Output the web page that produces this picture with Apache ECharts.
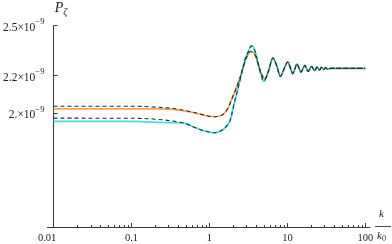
<!DOCTYPE html>
<html><head><meta charset="utf-8">
<script src="https://cdn.jsdelivr.net/npm/echarts@6/dist/echarts.min.js"></script>
<style>html,body{margin:0;padding:0;background:#fff}#c{width:392px;height:244px}</style>
</head><body><div id="c"></div>
<script>
// ---- data (P in units of 1e-9, k in units of k0) ----
const xTicks = [0.01, 0.1, 1, 10, 100];
const xTickLabels = ['0.01', '0.1', '1', '10', '100'];
const yTicks = [2.0, 2.2, 2.5];
const yTickLabels = ['2.', '2.2', '2.5'];

const tailK = [6.53, 7.30, 8.15, 9.1, 10.1, 10.9, 11.7, 12.5, 13.27, 14.1, 14.9, 15.8, 16.75, 18.45, 20.4, 22.4, 24.0, 25.8, 27.4, 29.2, 31.0, 32.8, 36, 45, 60, 80, 100];
const tailP = [2.301, 2.256, 2.196, 2.240, 2.278, 2.245, 2.211, 2.239, 2.266, 2.243, 2.219, 2.239, 2.258, 2.224, 2.252, 2.228, 2.249, 2.232, 2.247, 2.235, 2.245, 2.237, 2.241, 2.241, 2.241, 2.241, 2.241];

const orangeK = [0.01, 0.1, 0.188, 0.337, 0.493, 0.659, 0.882, 1.147, 1.448, 1.675, 1.828, 2.036, 2.25, 2.47, 2.856, 3.10, 3.38, 3.79, 4.26, 4.70, 5.12, 5.70];
const orangeP = [2.0205, 2.0205, 2.020, 2.0171, 2.0082, 1.999, 1.9863, 1.9797, 1.988, 2.015, 2.047, 2.095, 2.14, 2.189, 2.280, 2.320, 2.340, 2.326, 2.258, 2.205, 2.181, 2.223];

const cyanK = [0.01, 0.1, 0.188, 0.337, 0.493, 0.659, 0.882, 1.147, 1.448, 1.675, 1.828, 2.036, 2.242, 2.47, 2.856, 3.10, 3.47, 3.79, 4.26, 4.62, 4.97, 5.70];
const cyanP = [1.956, 1.956, 1.9527, 1.950, 1.945, 1.925, 1.908, 1.900, 1.912, 1.935, 1.957, 2.034, 2.104, 2.177, 2.291, 2.332, 2.374, 2.350, 2.262, 2.200, 2.168, 2.223];

const dashUpK = [0.01, 0.1, 0.188, 0.337, 0.493, 0.659, 0.882, 1.147, 1.448, 1.675, 1.828, 2.036, 2.25, 2.47, 2.856, 3.10, 3.38, 3.79, 4.26, 4.70, 5.12, 5.70];
const dashUpP = [2.034, 2.034, 2.030, 2.022, 2.011, 2.000, 1.9863, 1.9797, 1.988, 2.015, 2.047, 2.095, 2.14, 2.189, 2.280, 2.320, 2.340, 2.326, 2.258, 2.205, 2.181, 2.223];

const dashLoK = [0.01, 0.1, 0.188, 0.337, 0.493, 0.659, 0.882, 1.147, 1.448, 1.675, 1.828, 2.036, 2.242, 2.47, 2.856, 3.10, 3.47, 3.79, 4.26, 4.62, 4.97, 5.70];
const dashLoP = [1.9726, 1.972, 1.9685, 1.958, 1.946, 1.925, 1.908, 1.900, 1.912, 1.935, 1.957, 2.034, 2.104, 2.177, 2.291, 2.332, 2.374, 2.350, 2.262, 2.200, 2.168, 2.223];

// ---- build ----
const lx = k => Math.log10(k) + 2;      // log axis position, 0 at k = 0.01
const ly = p => Math.log10(p);
function pts(K, P) {
  const kk = K.concat(tailK), pp = P.concat(tailP);
  return kk.map((k, i) => [lx(k), ly(pp[i])]);
}
const minorX = [];
for (let d = -2; d < 2; d++) for (let m = 2; m <= 9; m++) minorX.push(lx(m * Math.pow(10, d)));

const serif = 'Liberation Serif';
const axisColor = '#3a3a3a';
const yMax = ly(2.5) + 1e-9;
const yMin = yMax - 202.3 / 903;
const chart = echarts.init(document.getElementById('c'), null, {renderer: 'canvas'});
chart.setOption({
  animation: false,
  backgroundColor: '#fff',
  grid: {left: 43, right: 22, top: 25.7, bottom: 16, containLabel: false},
  xAxis: [{
    type: 'value', min: -0.08, max: 4.06,
    axisLine: {onZero: false, lineStyle: {color: axisColor, width: 1}},
    axisTick: {inside: true, length: 4, customValues: xTicks.map(lx), lineStyle: {color: axisColor}},
    axisLabel: {customValues: xTicks.map(lx), margin: 6, color: '#222',
      formatter: v => {
        const i = xTicks.findIndex(t => Math.abs(lx(t) - v) < 1e-6);
        if (i < 0) return '';
        return i === 0 ? '{f|' + xTickLabels[i] + '}' : '{n|' + xTickLabels[i] + '}';
      },
      rich: {n: {fontFamily: serif, fontSize: 10.5, color: '#222'},
             f: {fontFamily: serif, fontSize: 10.5, color: '#222', padding: [0, 13, 0, 0]}}},
    splitLine: {show: false}
  }, {
    type: 'value', min: -0.08, max: 4.06, position: 'bottom',
    axisLine: {show: false, onZero: false},
    axisTick: {inside: true, length: 2, customValues: minorX, lineStyle: {color: axisColor}},
    axisLabel: {show: false},
    splitLine: {show: false}
  }],
  yAxis: {
    type: 'value', min: yMin, max: yMax,
    name: '{p|P}{z|ζ}', nameLocation: 'end', nameGap: 8,
    nameTextStyle: {align: 'left', verticalAlign: 'bottom', padding: [0, 0, 0, 1],
      rich: {p: {fontFamily: serif, fontStyle: 'italic', fontSize: 14, color: '#222', lineHeight: 16, verticalAlign: 'top'},
             z: {fontFamily: serif, fontStyle: 'italic', fontSize: 10, color: '#222', lineHeight: 10, verticalAlign: 'bottom'}}},
    axisLine: {show: true, onZero: true, onZeroAxisIndex: 0, lineStyle: {color: axisColor, width: 1}},
    axisTick: {show: true, inside: true, length: 4, customValues: yTicks.map(ly), lineStyle: {color: axisColor}},
    axisLabel: {customValues: yTicks.map(ly), margin: 3,
      formatter: v => {
        const i = yTicks.findIndex(t => Math.abs(ly(t) - v) < 1e-6);
        return i < 0 ? '' : '{a|' + yTickLabels[i] + '×10}{s|−9}';
      },
      rich: {a: {fontFamily: serif, fontSize: 11.5, color: '#222', lineHeight: 16, verticalAlign: 'bottom'},
             s: {fontFamily: serif, fontSize: 8.5, color: '#222', lineHeight: 6, verticalAlign: 'top'}}},
    splitLine: {show: false}
  },
  series: [
    {type: 'line', data: pts(orangeK, orangeP), showSymbol: false, smooth: 0.35,
     lineStyle: {color: '#F6A35C', width: 1.7}, z: 2},
    {type: 'line', data: pts(cyanK, cyanP), showSymbol: false, smooth: 0.35,
     lineStyle: {color: '#3FE3E3', width: 1.7}, z: 2},
    {type: 'line', data: pts(dashUpK, dashUpP), showSymbol: false, smooth: 0.35,
     lineStyle: {color: '#2b2b2b', width: 1.1, type: [4, 3]}, z: 3},
    {type: 'line', data: pts(dashLoK, dashLoP), showSymbol: false, smooth: 0.35,
     lineStyle: {color: '#2b2b2b', width: 1.1, type: [4, 3]}, z: 3}
  ],
  graphic: [
    {type: 'text', left: 379, top: 209, style: {text: 'k', font: 'italic 11px "Liberation Serif"', fill: '#222'}},
    {type: 'line', shape: {x1: 375, y1: 226.5, x2: 391, y2: 226.5}, style: {stroke: '#222', lineWidth: 0.8}},
    {type: 'text', left: 377, top: 231, style: {text: '{k|k}{o|0}', rich: {
      k: {font: 'italic 11px "Liberation Serif"', fill: '#222', lineHeight: 12, verticalAlign: 'top'},
      o: {font: '8px "Liberation Serif"', fill: '#222', lineHeight: 8, verticalAlign: 'bottom'}}}}
  ]
});
</script></body></html>
